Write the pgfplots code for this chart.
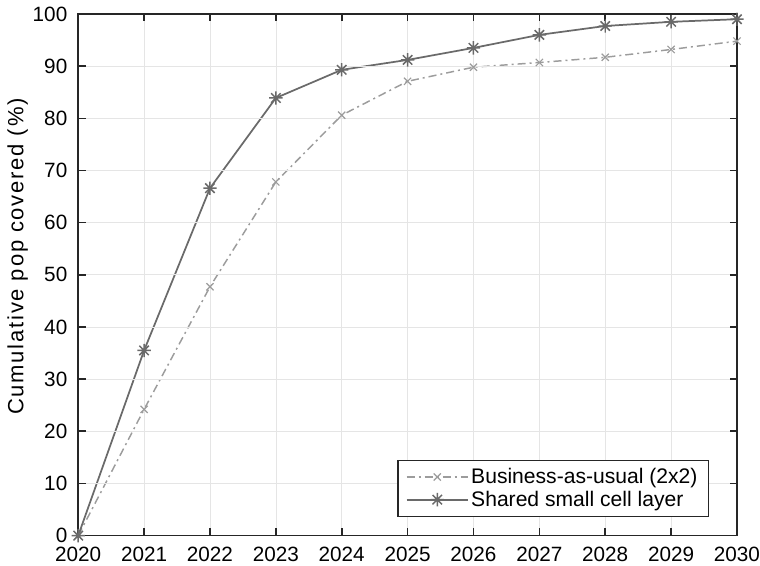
\documentclass[border=0pt]{standalone}
\usepackage{pgfplots}
\pgfplotsset{compat=1.18}
\usepackage{fontspec}
\setmainfont{Liberation Sans}
\definecolor{shared}{HTML}{6A6A6A}
\definecolor{bau}{HTML}{9C9C9C}
\definecolor{axc}{HTML}{262626}
\pgfdeclareplotmark{mstar}{%
  \pgfpathmoveto{\pgfqpoint{-\pgfplotmarksize}{0pt}}\pgfpathlineto{\pgfqpoint{\pgfplotmarksize}{0pt}}%
  \pgfpathmoveto{\pgfqpoint{0pt}{-\pgfplotmarksize}}\pgfpathlineto{\pgfqpoint{0pt}{\pgfplotmarksize}}%
  \pgfpathmoveto{\pgfqpoint{-0.707\pgfplotmarksize}{-0.707\pgfplotmarksize}}\pgfpathlineto{\pgfqpoint{0.707\pgfplotmarksize}{0.707\pgfplotmarksize}}%
  \pgfpathmoveto{\pgfqpoint{-0.707\pgfplotmarksize}{0.707\pgfplotmarksize}}\pgfpathlineto{\pgfqpoint{0.707\pgfplotmarksize}{-0.707\pgfplotmarksize}}%
  \pgfusepathqstroke}
\begin{document}
\begin{tikzpicture}
\begin{axis}[
  scale only axis,
  width=493.5pt, height=390.75pt,
  xmin=2020, xmax=2030, ymin=0, ymax=100,
  xtick={2020,2021,...,2030}, ytick={0,10,...,100},
  /pgf/number format/assume math mode=true,
  xticklabel style={/pgf/number format/1000 sep={}, inner xsep=0pt, inner ysep=3pt, yshift=-5.5pt},
  yticklabel style={inner xsep=0pt, inner ysep=5pt, xshift=-8pt},
  font=\fontsize{15.5}{18}\selectfont,
  ticklabel style={font=\fontsize{15.5}{18}\selectfont},
  tick align=inside,
  major tick length=5.5pt,
  every tick/.append style={draw=axc, line width=1.2pt},
  axis line style={axc, line width=1.1pt},
  axis on top,
  xmajorgrids, ymajorgrids, grid style={gray!20, line width=0.5pt},
  ylabel={\addfontfeature{LetterSpace=8}Cumulative pop covered (\%)},
  every axis y label/.style={at={(axis description cs:-0.092,0.535)}, rotate=90, anchor=center,
     font=\fontsize{16.5}{18}\selectfont, inner ysep=5.5pt},
  legend style={at={(0.957,0.036)}, anchor=south east, draw=axc, line width=0.8pt,
     font=\fontsize{15.8}{18}\selectfont, row sep=0pt, inner xsep=6pt, inner ysep=4pt},
  legend cell align=left,
  legend image code/.code={\draw[#1] (0cm,0cm) -- (1.6cm,0cm); \draw[#1, mark repeat=2, mark phase=2] plot coordinates {(0cm,0cm) (0.8cm,0cm) (1.6cm,0cm)};},
]
\addplot[bau, line width=1.1pt, dash pattern=on 6pt off 3pt on 1.5pt off 3pt, mark=x, mark size=3.8pt, mark options={solid, line width=0.9pt}]
coordinates {(2020,0) (2021,24.2) (2022,47.7) (2023,67.8) (2024,80.6) (2025,87.1) (2026,89.8) (2027,90.7) (2028,91.7) (2029,93.2) (2030,94.8)};
\addlegendentry{Business-as-usual (2x2)}
\addplot[shared, line width=1.3pt, mark=mstar, mark size=5pt, mark options={solid, line width=1.1pt}]
coordinates {(2020,0) (2021,35.5) (2022,66.6) (2023,83.9) (2024,89.3) (2025,91.2) (2026,93.5) (2027,96.0) (2028,97.7) (2029,98.5) (2030,99.0)};
\addlegendentry{Shared small cell layer}
\end{axis}
\end{tikzpicture}
\end{document}
